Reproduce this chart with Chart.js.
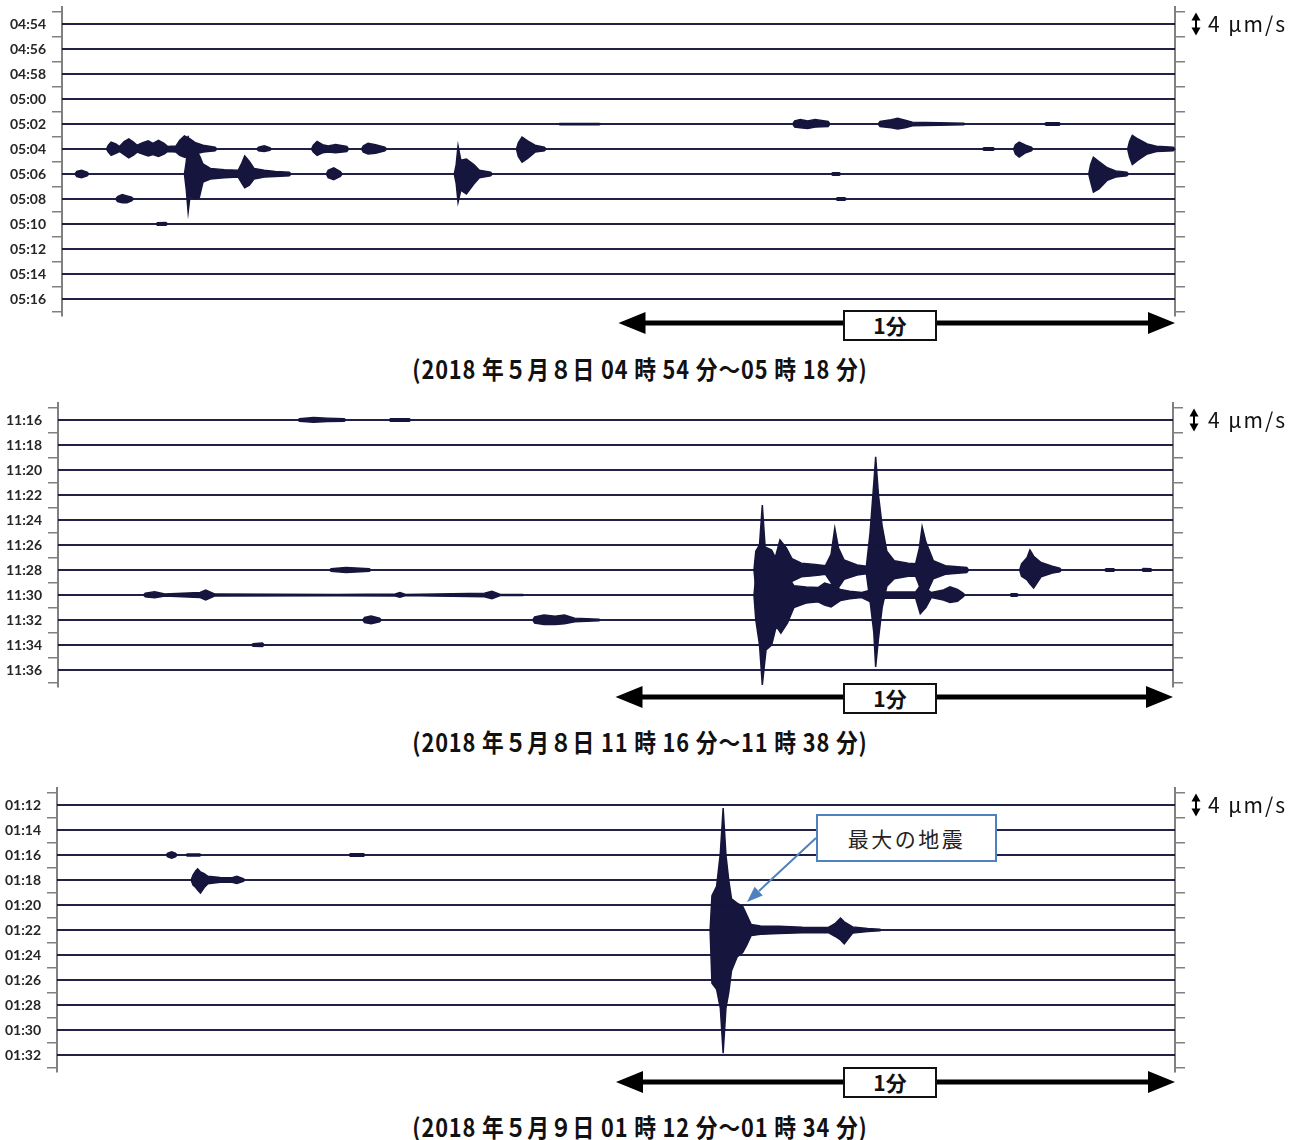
<!DOCTYPE html>
<html lang="ja">
<head>
<meta charset="utf-8">
<script src="https://cdn.jsdelivr.net/npm/chart.js"></script>
<style>
  body { margin: 0; background: #fff; }
  #page { position: relative; width: 1306px; height: 1140px; overflow: hidden; font-family: "Noto Sans CJK JP", sans-serif; color: #111; }
  canvas { position: absolute; left: 0; }
  .caption { position: absolute; left: 0; width: 1280px; text-align: center; font-weight: bold; font-size: 25px; letter-spacing: 1px; line-height: 1; transform: scaleX(0.87); }
  .minute { position: absolute; left: 843px; width: 90px; height: 27px; border: 2px solid #111; background: #fff; font-weight: bold; font-size: 21px; text-align: center; line-height: 27px; }
  .unit { position: absolute; left: 1208px; font-size: 21px; letter-spacing: 2px; line-height: 1; }
  .note { position: absolute; left: 816px; top: 814px; width: 177px; height: 44px; border: 2px solid #4f81bd; background: #fff; font-size: 21px; letter-spacing: 2.5px; text-align: center; line-height: 44px; color: #222; }
  svg { position: absolute; left: 0; top: 0; }
</style>
</head>
<body>
<div id="page">
  <canvas id="c1" width="1306" height="345" style="top:0px"></canvas>
  <canvas id="c2" width="1306" height="320" style="top:396px"></canvas>
  <canvas id="c3" width="1306" height="320" style="top:781px"></canvas>

  <div class="unit" style="top:13px">4 μm/s</div>
  <div class="unit" style="top:409px">4 μm/s</div>
  <div class="unit" style="top:794px">4 μm/s</div>

  <div class="minute" style="top:310px">1分</div>
  <div class="minute" style="top:683px">1分</div>
  <div class="minute" style="top:1067px">1分</div>

  <div class="caption" style="top:356px">(2018 年５月８日 04 時 54 分～05 時 18 分)</div>
  <div class="caption" style="top:729px">(2018 年５月８日 11 時 16 分～11 時 38 分)</div>
  <div class="caption" style="top:1114px">(2018 年５月９日 01 時 12 分～01 時 34 分)</div>

  <svg width="1306" height="1140">
    <line x1="816" y1="838" x2="759" y2="891" stroke="#4f81bd" stroke-width="2"/>
    <polygon points="747,902 762.8,895.5 754.6,886.7" fill="#4f81bd"/>
  </svg>
  <div class="note">最大の地震</div>
</div>

<script>
// Trace start times (each trace = 2 minutes)
const times1 = ["04:54", "04:56", "04:58", "05:00", "05:02", "05:04", "05:06", "05:08", "05:10", "05:12", "05:14", "05:16"];
const times2 = ["11:16", "11:18", "11:20", "11:22", "11:24", "11:26", "11:28", "11:30", "11:32", "11:34", "11:36"];
const times3 = ["01:12", "01:14", "01:16", "01:18", "01:20", "01:22", "01:24", "01:26", "01:28", "01:30", "01:32"];

// Seismic bursts: [trace index, [[seconds, up μm/s, down μm/s], ...]]
const events1 = [
    [4, [[53.7, 0.1, 0.1], [57.9, 0.1, 0.1]]],
    [4, [[79.0, 0.5, 0.5], [79.6, 0.7, 0.6], [80.4, 0.5, 0.7], [81.2, 0.7, 0.5], [82.6, 0.4, 0.4]]],
    [4, [[88.2, 0.4, 0.4], [89.4, 0.7, 0.6], [90.1, 0.9, 0.8], [90.9, 0.6, 0.6], [91.7, 0.3, 0.3], [94.5, 0.2, 0.2], [97.2, 0.12, 0.12]]],
    [4, [[106.1, 0.2, 0.2], [107.5, 0.2, 0.2]]],
    [5, [[5.0, 0.6, 0.5], [5.3, 1.1, 1.0], [5.8, 0.8, 0.7], [6.2, 0.4, 0.4], [6.7, 1.2, 0.9], [7.2, 1.6, 1.4], [7.7, 1.1, 1.0], [8.1, 0.6, 0.5],
         [8.7, 1.0, 0.8], [9.3, 1.3, 1.1], [9.8, 0.9, 0.9], [10.4, 1.4, 1.2], [11.0, 0.9, 0.8], [11.4, 0.4, 0.4], [12.3, 0.5, 0.5],
         [12.7, 1.4, 1.0], [13.2, 2.1, 1.3], [13.8, 1.6, 1.2], [14.4, 1.0, 0.8], [15.2, 0.6, 0.5], [16.5, 0.3, 0.3]]],
    [5, [[21.2, 0.3, 0.3], [21.8, 0.5, 0.4], [22.4, 0.2, 0.2]]],
    [5, [[27.1, 0.6, 0.5], [27.5, 1.2, 1.0], [28.1, 0.7, 0.6], [28.7, 0.5, 0.5], [29.5, 0.7, 0.6], [30.7, 0.4, 0.4]]],
    [5, [[32.5, 0.5, 0.5], [33.0, 0.9, 0.8], [33.8, 0.7, 0.7], [34.8, 0.3, 0.3]]],
    [5, [[49.2, 1.0, 1.2], [49.6, 1.9, 2.1], [50.2, 1.3, 1.5], [51.0, 0.6, 0.5], [52.0, 0.3, 0.3]]],
    [5, [[99.4, 0.2, 0.2], [100.4, 0.2, 0.2]]],
    [5, [[102.8, 0.7, 0.8], [103.2, 1.1, 1.3], [103.9, 0.6, 0.6], [104.5, 0.3, 0.3]]],
    [5, [[115.1, 1.2, 1.3], [115.4, 2.2, 2.5], [116.0, 1.6, 1.8], [117.0, 0.8, 0.8], [118.0, 0.45, 0.4], [119.8, 0.3, 0.3]]],
    [6, [[1.6, 0.4, 0.4], [2.1, 0.6, 0.6], [2.7, 0.3, 0.3]]],
    [6, [[13.4, 2.0, 2.5], [13.6, 6.1, 6.1], [13.8, 3.0, 3.6], [14.3, 3.7, 4.0], [14.8, 3.0, 3.8], [15.2, 1.6, 1.3], [16.0, 0.9, 0.8],
         [17.5, 0.7, 0.6], [19.0, 0.6, 0.5], [19.4, 1.8, 1.5], [19.7, 2.9, 2.2], [20.2, 2.0, 1.8], [20.7, 0.9, 0.8], [21.8, 0.6, 0.5],
         [23.0, 0.4, 0.4], [24.5, 0.3, 0.3]]],
    [6, [[28.7, 0.6, 0.6], [29.3, 1.0, 0.9], [30.0, 0.4, 0.4]]],
    [6, [[42.5, 1.5, 1.5], [42.7, 4.5, 4.5], [43.0, 2.2, 2.6], [43.6, 2.4, 3.2], [44.4, 1.5, 1.6], [45.0, 0.6, 0.6], [46.2, 0.3, 0.3]]],
    [6, [[83.1, 0.2, 0.2], [83.8, 0.2, 0.2]]],
    [6, [[110.9, 1.5, 1.2], [111.2, 2.7, 2.9], [111.8, 2.0, 2.4], [112.7, 1.0, 1.0], [113.6, 0.5, 0.5], [114.8, 0.3, 0.3]]],
    [7, [[6.0, 0.4, 0.4], [6.5, 0.7, 0.6], [7.0, 0.5, 0.6], [7.5, 0.3, 0.3]]],
    [7, [[83.6, 0.2, 0.2], [84.4, 0.2, 0.2]]],
    [8, [[10.3, 0.2, 0.2], [11.2, 0.25, 0.2]]]
];

const events2 = [
    [0, [[26.0, 0.2, 0.2], [27.5, 0.4, 0.35], [29.0, 0.3, 0.25], [30.8, 0.2, 0.2]]],
    [0, [[35.8, 0.2, 0.2], [37.8, 0.2, 0.2]]],
    [6, [[29.4, 0.2, 0.2], [31.0, 0.4, 0.4], [33.5, 0.2, 0.2]]],
    [6, [[75.1, 3.0, 3.0], [75.5, 4.0, 3.8], [75.8, 10.4, 4.0], [76.1, 3.7, 4.0], [76.8, 3.2, 3.8], [77.2, 2.0, 2.4], [77.7, 4.8, 4.0],
         [78.4, 3.5, 3.6], [79.0, 1.8, 1.8], [80.0, 1.1, 1.1], [81.5, 0.9, 0.9], [82.6, 0.7, 0.7], [83.2, 2.5, 2.0], [83.6, 6.7, 3.7],
         [84.0, 3.5, 2.8], [84.6, 1.6, 1.5], [86.0, 0.8, 0.8], [87.0, 0.6, 0.6], [87.4, 6.0, 5.0], [87.8, 13.9, 10.0], [88.0, 18.1, 15.5],
         [88.3, 12.0, 11.0], [88.7, 7.0, 6.0], [89.2, 3.0, 2.6], [90.0, 1.5, 1.4], [91.5, 1.1, 1.0], [92.3, 1.0, 1.0], [92.7, 3.5, 2.5],
         [93.0, 6.9, 4.5], [93.4, 4.5, 4.0], [94.2, 1.5, 1.4], [95.5, 0.7, 0.7], [97.8, 0.4, 0.4]]],
    [6, [[103.7, 1.0, 1.0], [104.3, 2.0, 1.6], [104.6, 3.2, 2.2], [105.0, 2.2, 2.9], [105.8, 1.2, 1.1], [107.0, 0.6, 0.5], [107.8, 0.3, 0.3]]],
    [6, [[112.8, 0.2, 0.2], [113.6, 0.2, 0.2]]],
    [6, [[116.8, 0.25, 0.2], [117.6, 0.2, 0.2]]],
    [7, [[9.4, 0.3, 0.3], [10.4, 0.5, 0.45], [11.5, 0.15, 0.15], [15.3, 0.4, 0.4], [15.9, 0.8, 0.8], [16.9, 0.15, 0.15], [30.0, 0.1, 0.1],
         [36.3, 0.15, 0.15], [36.8, 0.4, 0.35], [37.4, 0.1, 0.1], [45.9, 0.3, 0.3], [46.7, 0.6, 0.6], [47.6, 0.1, 0.1], [50.0, 0.08, 0.08]]],
    [7, [[75.1, 3.0, 4.0], [75.5, 4.0, 8.0], [75.8, 4.0, 14.4], [76.2, 4.0, 8.8], [76.8, 3.8, 8.0], [77.3, 2.5, 5.0], [77.8, 4.0, 6.1],
         [78.5, 3.0, 4.5], [79.2, 1.5, 2.0], [80.5, 1.3, 1.3], [81.8, 1.2, 1.1], [82.5, 1.9, 1.6], [83.2, 1.6, 1.9], [84.2, 0.9, 0.9],
         [85.2, 0.6, 0.6], [86.5, 0.4, 0.4], [88.0, 1.0, 1.5], [89.0, 0.5, 0.5], [92.3, 0.5, 0.5], [92.8, 1.5, 3.0], [93.4, 1.0, 2.0],
         [94.0, 0.4, 0.4], [95.3, 0.8, 0.8], [96.0, 1.3, 1.2], [96.8, 0.9, 1.0], [97.4, 0.3, 0.3]]],
    [7, [[102.6, 0.2, 0.2], [103.2, 0.2, 0.2]]],
    [8, [[33.0, 0.4, 0.4], [33.7, 0.65, 0.6], [34.6, 0.3, 0.3]]],
    [8, [[51.3, 0.5, 0.5], [52.3, 0.8, 0.7], [53.5, 0.6, 0.7], [54.5, 0.8, 0.6], [55.6, 0.3, 0.3], [58.2, 0.12, 0.12]]],
    [9, [[21.0, 0.2, 0.2], [22.0, 0.3, 0.25]]]
];

const events3 = [
    [2, [[11.9, 0.3, 0.3], [12.3, 0.5, 0.5], [12.7, 0.3, 0.3]]],
    [2, [[14.0, 0.15, 0.15], [15.3, 0.15, 0.15]]],
    [2, [[31.5, 0.2, 0.2], [32.9, 0.2, 0.2]]],
    [3, [[14.6, 0.8, 0.8], [14.9, 1.5, 1.2], [15.1, 1.8, 1.6], [15.4, 1.3, 2.1], [15.8, 1.0, 1.2], [16.2, 0.6, 0.6], [17.5, 0.4, 0.35],
         [18.8, 0.35, 0.35], [19.3, 0.6, 0.55], [20.0, 0.2, 0.2]]],
    [5, [[70.3, 5.5, 8.5], [70.8, 7.0, 9.5], [71.2, 12.3, 12.5], [71.5, 19.5, 19.7], [71.8, 12.0, 12.5], [72.1, 8.0, 10.0], [72.4, 5.0, 6.5],
         [73.0, 4.3, 4.3], [73.6, 3.8, 3.6], [74.0, 2.5, 2.5], [74.5, 0.9, 0.9], [75.5, 0.65, 0.7], [77.5, 0.6, 0.55], [80.0, 0.45, 0.45],
         [82.8, 0.4, 0.4], [83.5, 1.0, 1.0], [84.1, 1.9, 1.6], [84.5, 1.3, 2.2], [85.4, 0.5, 0.5], [87.0, 0.25, 0.25], [88.3, 0.12, 0.12]]]
];

const traceSeconds = 120;      // one trace = 2 minutes
const traceSpacing = 4;        // μm/s between neighbouring traces
const minuteSpan = [60, 120];  // the "1分" arrow
const ink = "#15153d";

// Draws the 1-minute arrow and the 4 μm/s scale bar
const marksPlugin = {
    id: "marks",
    afterDraw(chart, args, opts) {
        const { ctx, chartArea } = chart;
        const xs = chart.scales.x;
        const ys = chart.scales.y;
        ctx.save();
        ctx.fillStyle = "#000";
        ctx.strokeStyle = "#000";

        // minute arrow
        const x1 = xs.getPixelForValue(minuteSpan[0]);
        const x2 = xs.getPixelForValue(minuteSpan[1]);
        const ay = chartArea.bottom + opts.arrowGap;
        ctx.lineWidth = 5;
        ctx.beginPath();
        ctx.moveTo(x1 + 20, ay);
        ctx.lineTo(x2 - 20, ay);
        ctx.stroke();
        ctx.beginPath();
        ctx.moveTo(x1, ay); ctx.lineTo(x1 + 27, ay - 11); ctx.lineTo(x1 + 27, ay + 11); ctx.closePath();
        ctx.moveTo(x2, ay); ctx.lineTo(x2 - 27, ay - 11); ctx.lineTo(x2 - 27, ay + 11); ctx.closePath();
        ctx.fill();

        // scale bar (one trace spacing)
        const bx = chartArea.right + 21;
        const y1 = ys.getPixelForValue(traceSpacing / 2) + 1;
        const y2 = ys.getPixelForValue(-traceSpacing / 2) - 1;
        ctx.lineWidth = 2;
        ctx.beginPath();
        ctx.moveTo(bx, y1 + 6);
        ctx.lineTo(bx, y2 - 6);
        ctx.stroke();
        ctx.beginPath();
        ctx.moveTo(bx, y1); ctx.lineTo(bx - 4.5, y1 + 8); ctx.lineTo(bx + 4.5, y1 + 8); ctx.closePath();
        ctx.moveTo(bx, y2); ctx.lineTo(bx - 4.5, y2 - 8); ctx.lineTo(bx + 4.5, y2 - 8); ctx.closePath();
        ctx.fill();
        ctx.restore();
    }
};

// Build top/bottom envelope lines for every trace
function buildDatasets(times, events) {
    const datasets = [];
    times.forEach((t, i) => {
        const base = -traceSpacing * i;
        const top = [{ x: 0, y: base }];
        const bottom = [{ x: 0, y: base }];
        events.filter(e => e[0] === i)
            .sort((a, b) => a[1][0][0] - b[1][0][0])
            .forEach(e => {
                const v = e[1];
                top.push({ x: v[0][0] - 0.2, y: base });
                bottom.push({ x: v[0][0] - 0.2, y: base });
                v.forEach(p => {
                    top.push({ x: p[0], y: base + p[1] });
                    bottom.push({ x: p[0], y: base - p[2] });
                });
                top.push({ x: v[v.length - 1][0] + 0.2, y: base });
                bottom.push({ x: v[v.length - 1][0] + 0.2, y: base });
            });
        top.push({ x: traceSeconds, y: base });
        bottom.push({ x: traceSeconds, y: base });
        datasets.push({ label: t, data: top, borderColor: ink, borderWidth: 1.5, pointRadius: 0, fill: false, clip: false });
        datasets.push({ label: t + " low", data: bottom, borderColor: ink, borderWidth: 1.5, pointRadius: 0, fill: "-1", backgroundColor: ink, clip: false });
    });
    return datasets;
}

function axisFor(times, side, width) {
    const n = times.length;
    return {
        type: "linear",
        position: side,
        min: -traceSpacing * (n - 1) - traceSpacing / 2 - 0.72,
        max: traceSpacing / 2 + 0.72,
        afterBuildTicks: scale => {
            scale.ticks = [];
            for (let k = 0; k <= n; k++) scale.ticks.push({ value: traceSpacing / 2 - traceSpacing * k });
        },
        afterFit: scale => {
            scale.width = width;
            scale.paddingTop = 0;
            scale.paddingBottom = 0;
        },
        grid: { drawOnChartArea: false, drawTicks: true, tickLength: 10, color: "#808080", lineWidth: 1.5 },
        border: { display: true, color: "#808080", width: 2 },
        ticks: {
            display: side === "left",
            autoSkip: false,
            labelOffset: 12.5,
            padding: 6,
            color: "#262626",
            font: { family: "Lato", weight: "bold", size: 14 },
            callback: (value, index) => times[index] || ""
        }
    };
}

function drawPanel(id, times, events, left, right, arrowGap) {
    const canvas = document.getElementById(id);
    new Chart(canvas.getContext("2d"), {
        type: "line",
        data: { datasets: buildDatasets(times, events) },
        options: {
            responsive: false,
            animation: false,
            events: [],
            layout: { padding: { top: 7, bottom: canvas.height - 7 - (traceSpacing * (times.length - 1) + traceSpacing + 1.44) * 6.25, left: 0, right: 0 } },
            elements: { line: { tension: 0 } },
            scales: {
                x: { type: "linear", min: 0, max: traceSeconds, display: false },
                y: axisFor(times, "left", left),
                yR: axisFor(times, "right", 1306 - right)
            },
            plugins: {
                legend: { display: false },
                tooltip: { enabled: false },
                marks: { arrowGap }
            }
        },
        plugins: [marksPlugin]
    });
}

drawPanel("c1", times1, events1, 62, 1175, 7);
drawPanel("c2", times2, events2, 58, 1173, 10);
drawPanel("c3", times3, events3, 57, 1175, 10);
</script>
</body>
</html>
